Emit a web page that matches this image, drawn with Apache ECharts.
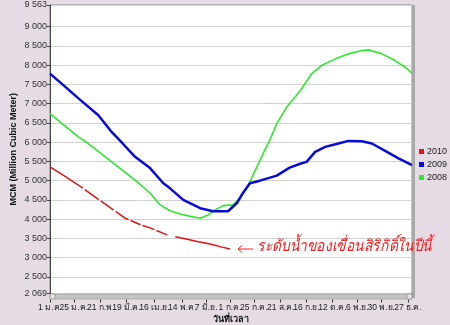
<!DOCTYPE html>
<html>
<head>
<meta charset="utf-8">
<script src="https://cdn.jsdelivr.net/npm/echarts@6/dist/echarts.min.js"></script>
<style>
html,body{margin:0;padding:0;background:#e4dbe5;}
#c{width:450px;height:325px;}
</style>
</head>
<body>
<div id="c"></div>
<script>
// x axis: day of year (0 = 1 Jan)
const tickDays = [0, 24, 51, 77, 105, 133, 157, 181, 205, 232, 258, 284, 309, 333, 360];
const tickLabels = ['1 ม.ค.', '25 ม.ค.', '21 ก.พ.', '19 มี.ค.', '16 เม.ย.', '14 พ.ค.', '7 มิ.ย.', '1 ก.ค.', '25 ก.ค.', '21 ส.ค.', '16 ก.ย.', '12 ต.ค.', '6 พ.ย.', '30 พ.ย.', '27 ธ.ค.'];
const yTicks = [2069, 2500, 3000, 3500, 4000, 4500, 5000, 5500, 6000, 6500, 7000, 7500, 8000, 8500, 9000, 9563];

// 2010 (red) - '-' marks missing days
const days2010 = [0, 14, 28.5, 33, 34, 35, 49, 50, 51, 52, 64, 65, 66, 75.5, 79, 80, 81, 91, 92, 93, 100.6, 105, 106, 107, 117.7, 118, 122, 126, 127.8, 138, 148, 156, 164, 172, 181];
const vals2010 = [5360, 5130, 4887, 4804, '-', 4767, 4510, '-', 4473, 4455, 4235, '-', 4200, 4025, 3987, '-', 3966, 3855, '-', 3836, 3774, 3727, '-', 3706, 3593, 3590, '-', 3545, 3533, 3480, 3420, 3380, 3334, 3280, 3223];

// 2009 (blue)
const days2009 = [0, 14, 28, 48.6, 62, 74, 85.5, 100.6, 113.7, 120.7, 134, 151, 164, 179, 188, 194, 201, 211, 228, 241, 251.5, 258, 266.6, 276.7, 290, 300, 313.6, 323.6, 337, 350.4, 364];
const vals2009 = [7780, 7470, 7150, 6700, 6266, 5940, 5620, 5326, 4938, 4801, 4500, 4284, 4205, 4205, 4420, 4680, 4935, 5000, 5130, 5340, 5440, 5489, 5748, 5878, 5965, 6033, 6025, 5965, 5774, 5577, 5404];

// 2008 (green)
const days2008 = [0, 28.5, 38.5, 62, 85.5, 100.6, 110.7, 120.7, 134, 151, 159, 166, 174, 184, 191, 198, 201, 208, 216, 221, 228, 238, 246.5, 253, 263, 273, 287, 300, 313.6, 320, 333.7, 347, 357, 364];
const vals2008 = [6741, 6136, 5965, 5489, 5016, 4680, 4370, 4220, 4111, 4025, 4111, 4240, 4352, 4370, 4542, 4800, 4972, 5360, 5792, 6051, 6483, 6912, 7171, 7388, 7776, 7991, 8164, 8294, 8379, 8397, 8294, 8120, 7947, 7792];

const seriesNames = ['2010', '2009', '2008'];
const seriesColors = ['#dd1515', '#0a0ad8', '#2ee82e'];
const annotation = 'ระดับน้ำของเขื่อนสิริกิติ์ในปีนี้';

function pairs(d, v) { return d.map((x, i) => [x, v[i]]); }
function fmt(n) { const s = String(n); return s.length > 3 ? s.slice(0, s.length - 3) + ' ' + s.slice(-3) : s; }

// split tick labels over two coincident axes so that neighbouring labels are not auto-hidden
const evenDays = tickDays.filter((d, i) => i % 2 === 0);
const oddDays = tickDays.filter((d, i) => i % 2 === 1);

const chart = echarts.init(document.getElementById('c'), null, {renderer: 'canvas'});
const font = 'Liberation Sans, Arial, sans-serif';
function xAxisDef(labelDays, withName) {
  return {
    type: 'value', min: 0, max: 364, offset: 6, position: 'bottom',
    name: withName ? 'วันที่เวลา' : '', nameLocation: 'middle', nameGap: 16, nameMoveOverlap: false,
    nameTextStyle: {fontSize: 9, fontWeight: 'bold', color: '#111'},
    axisLine: {show: false},
    axisTick: {show: withName, length: 3, customValues: tickDays, lineStyle: {color: '#333'}},
    axisLabel: {customValues: labelDays, fontSize: 8.5, color: '#222', margin: 4, hideOverlap: false,
      formatter: v => tickLabels[tickDays.indexOf(v)] || ''},
    splitLine: {show: false}
  };
}
chart.setOption({
  backgroundColor: '#e4dbe5',
  animation: false,
  textStyle: {fontFamily: font},
  grid: {left: 50, right: 38, top: 5, bottom: 31.5, outerBoundsMode: 'none', containLabel: false,
    show: true, backgroundColor: '#ffffff', borderColor: '#8a8a8a', borderWidth: 1},
  legend: {
    orient: 'vertical', left: 419, top: 147, itemWidth: 5, itemHeight: 5, itemGap: 4,
    icon: 'rect', data: seriesNames, padding: 0,
    textStyle: {fontSize: 9, color: '#222', padding: [0, 0, 0, -2]}
  },
  xAxis: [xAxisDef(evenDays, true), xAxisDef(oddDays, false)],
  yAxis: {
    type: 'value', min: 2069, max: 9563,
    name: 'MCM (Million Cubic Meter)', nameLocation: 'middle', nameGap: 32, nameMoveOverlap: false,
    nameTextStyle: {fontSize: 9, fontWeight: 'bold', color: '#111'},
    axisLine: {show: true, lineStyle: {color: '#444'}},
    axisTick: {show: true, length: 3, customValues: yTicks, lineStyle: {color: '#444'}},
    axisLabel: {customValues: yTicks, fontSize: 9, color: '#333', margin: 3, formatter: v => fmt(v)},
    splitLine: {show: true, lineStyle: {color: '#d2d2d2', width: 1}}
  },
  graphic: [
    {type: 'rect', shape: {x: 412, y: 5, width: 3, height: 293}, style: {fill: '#a8a8a8'}, z: 10},
    {type: 'rect', shape: {x: 50, y: 294, width: 362, height: 5}, style: {fill: '#c4c4c4', stroke: '#8c8c8c', lineWidth: 0.5}, z: 10},
    {type: 'rect', shape: {x: 50, y: 294, width: 5, height: 5}, style: {fill: '#e0e0e0', stroke: '#777', lineWidth: 0.5}, z: 11},
    {type: 'rect', shape: {x: 407, y: 294, width: 5, height: 5}, style: {fill: '#e0e0e0', stroke: '#777', lineWidth: 0.5}, z: 11},
    {type: 'line', shape: {x1: 238, y1: 249, x2: 253, y2: 249}, style: {stroke: '#ee2020', lineWidth: 1}, z: 20},
    {type: 'polyline', shape: {points: [[242, 245.5], [238, 249], [242, 252.5]]}, style: {stroke: '#ee2020', lineWidth: 1, fill: null}, z: 20},
    {type: 'text', x: 257, y: 247, scaleX: 0.86, style: {text: annotation, fill: '#ee2020', fontSize: 16, fontStyle: 'italic', verticalAlign: 'middle', fontFamily: font}, z: 20}
  ],
  series: [
    {name: seriesNames[0], type: 'line', xAxisIndex: 0, data: pairs(days2010, vals2010), showSymbol: false, symbol: 'none', connectNulls: false,
     itemStyle: {color: seriesColors[0]}, lineStyle: {color: seriesColors[0], width: 1.5}, z: 5},
    {name: seriesNames[1], type: 'line', xAxisIndex: 0, data: pairs(days2009, vals2009), showSymbol: false, symbol: 'none',
     itemStyle: {color: seriesColors[1]}, lineStyle: {color: seriesColors[1], width: 2.5}, z: 4},
    {name: seriesNames[2], type: 'line', xAxisIndex: 0, data: pairs(days2008, vals2008), showSymbol: false, symbol: 'none',
     itemStyle: {color: seriesColors[2]}, lineStyle: {color: seriesColors[2], width: 1.6}, z: 3}
  ]
});
</script>
</body>
</html>
